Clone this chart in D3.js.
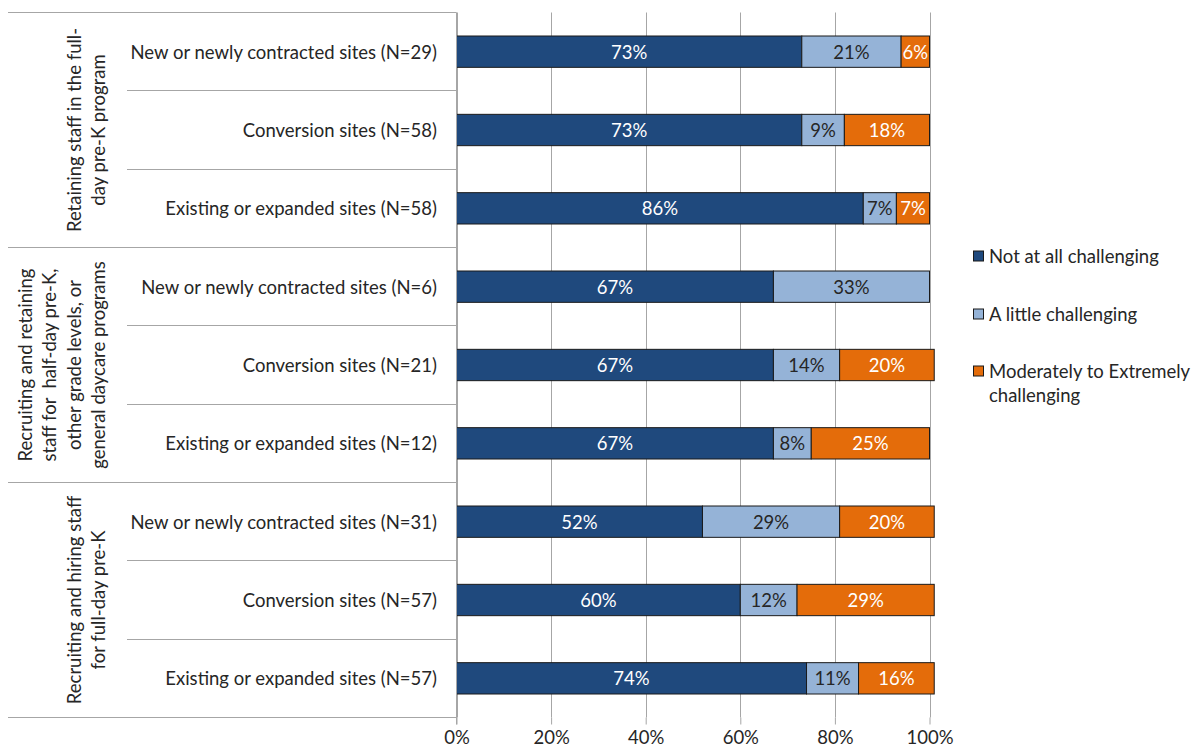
<!DOCTYPE html>
<html>
<head>
<meta charset="utf-8">
<script src="https://cdn.jsdelivr.net/npm/d3@7"></script>
<style>
  html, body { margin: 0; padding: 0; background: #fff; }
  svg text { font-family: Lato, "Open Sans", sans-serif; }
</style>
</head>
<body>
<svg id="chart" width="1195" height="751"></svg>
<script>
// Site types, one bar per row (top to bottom)
const siteLabels = [
  "New or newly contracted sites (N=29)",
  "Conversion sites (N=58)",
  "Existing or expanded sites (N=58)",
  "New or newly contracted sites (N=6)",
  "Conversion sites (N=21)",
  "Existing or expanded sites (N=12)",
  "New or newly contracted sites (N=31)",
  "Conversion sites (N=57)",
  "Existing or expanded sites (N=57)"
];

// Topic groups (three rows each), wrapped lines
const groupLines = [
  ["Retaining staff in the full-", "day pre-K program"],
  ["Recruiting and retaining", "staff for  half-day pre-K,", "other grade levels, or", "general daycare programs"],
  ["Recruiting and hiring staff", "for full-day pre-K"]
];

// Response series (percent)
const seriesNames = ["Not at all challenging", "A little challenging", "Moderately to Extremely challenging"];
const notAtAll   = [73, 73, 86, 67, 67, 67, 52, 60, 74];
const aLittle    = [21,  9,  7, 33, 14,  8, 29, 12, 11];
const moderately = [ 6, 18,  7,  0, 20, 25, 20, 29, 16];

const tickValues = [0, 20, 40, 60, 80, 100];

const colors = ["#1F497D", "#95B3D7", "#E46C0A"];
const labelColors = ["#ffffff", "#262626", "#ffffff"];

const svg = d3.select("#chart");
const FONT = 18.5;

const plot = { left: 456.5, right: 929.5, top: 12.5, bottom: 717.5 };

const x = d3.scaleLinear().domain([0, 100]).range([plot.left, plot.right]);
const y = d3.scaleBand()
  .domain(d3.range(siteLabels.length))
  .range([plot.top, plot.bottom])
  .paddingInner(0.6)
  .paddingOuter(0.3);
const step = y.step();

// Vertical gridlines and bottom axis
const xAxis = d3.axisBottom(x)
  .tickValues(tickValues)
  .tickFormat(d => d + "%")
  .tickSize(7)
  .tickSizeOuter(0)
  .tickPadding(6);

svg.append("g")
  .selectAll("line")
  .data(tickValues)
  .join("line")
  .attr("x1", d => Math.round(x(d)) + 0.5)
  .attr("x2", d => Math.round(x(d)) + 0.5)
  .attr("y1", plot.top)
  .attr("y2", plot.bottom)
  .attr("stroke", "#a6a6a6")
  .attr("stroke-width", 1);

const gx = svg.append("g")
  .attr("transform", `translate(0,${plot.bottom})`)
  .call(xAxis);
gx.select(".domain").remove();
gx.selectAll(".tick line").attr("stroke", "#a6a6a6");
gx.selectAll(".tick text")
  .attr("fill", "#262626")
  .style("font-size", FONT + "px")
  .style("font-family", "Lato, 'Open Sans', sans-serif");

// Category separators on the left
const sep = svg.append("g").attr("stroke", "#a6a6a6").attr("stroke-width", 1);
for (let i = 0; i <= siteLabels.length; i++) {
  const yy = Math.round(plot.top + i * step - 0.5) + 0.5;
  const groupEdge = i % 3 === 0;
  sep.append("line")
    .attr("x1", groupEdge ? 8 : 127)
    .attr("x2", plot.left)
    .attr("y1", yy)
    .attr("y2", yy);
}

// Stacked bars
const rows = siteLabels.map((label, i) => [notAtAll[i], aLittle[i], moderately[i]]);
const barG = svg.append("g");
rows.forEach((vals, i) => {
  let cum = 0;
  vals.forEach((v, s) => {
    const x0 = x(cum), x1 = x(cum + v);
    cum += v;
    if (v <= 0) return;
    barG.append("rect")
      .attr("x", x0)
      .attr("y", y(i))
      .attr("width", x1 - x0)
      .attr("height", y.bandwidth())
      .attr("fill", colors[s])
      .attr("stroke", "#1a1a1a")
      .attr("stroke-width", 1);
    barG.append("text")
      .attr("x", (x0 + x1) / 2)
      .attr("y", y(i) + y.bandwidth() / 2)
      .attr("text-anchor", "middle")
      .attr("dominant-baseline", "central")
      .attr("fill", labelColors[s])
      .style("font-size", FONT + "px")
      .text(v + "%");
  });
});

// Left axis line
svg.append("line")
  .attr("x1", plot.left).attr("x2", plot.left)
  .attr("y1", plot.top).attr("y2", plot.bottom + 7)
  .attr("stroke", "#a6a6a6");

// Site labels
svg.append("g")
  .selectAll("text")
  .data(siteLabels)
  .join("text")
  .attr("x", 437)
  .attr("y", (d, i) => y(i) + y.bandwidth() / 2)
  .attr("text-anchor", "end")
  .attr("dominant-baseline", "central")
  .attr("fill", "#262626")
  .style("font-size", FONT + "px")
  .text(d => d);

// Rotated group labels
const lineGap = 24.5;
groupLines.forEach((lines, g) => {
  const cy = plot.top + (g * 3 + 1.5) * step;
  lines.forEach((ln, k) => {
    const cx = 98 - (lines.length - 1 - k) * lineGap;
    svg.append("text")
      .attr("transform", `translate(${cx},${cy}) rotate(-90)`)
      .attr("text-anchor", "middle")
      .attr("dominant-baseline", "central")
      .attr("fill", "#262626")
      .style("font-size", FONT + "px")
      .style("white-space", "pre")
      .text(ln);
  });
});

// Legend
const legendItems = [
  { lines: ["Not at all challenging"], y: 256 },
  { lines: ["A little challenging"], y: 314 },
  { lines: ["Moderately to Extremely", "challenging"], y: 371 }
];
const lg = svg.append("g");
legendItems.forEach((it, s) => {
  lg.append("rect")
    .attr("x", 973.5).attr("y", it.y - 5)
    .attr("width", 10).attr("height", 10)
    .attr("fill", colors[s])
    .attr("stroke", "#1a1a1a");
  it.lines.forEach((ln, k) => {
    lg.append("text")
      .attr("x", 989)
      .attr("y", it.y + k * 23.5)
      .attr("dominant-baseline", "central")
      .attr("fill", "#262626")
      .style("font-size", FONT + "px")
      .text(ln);
  });
});
</script>
</body>
</html>
